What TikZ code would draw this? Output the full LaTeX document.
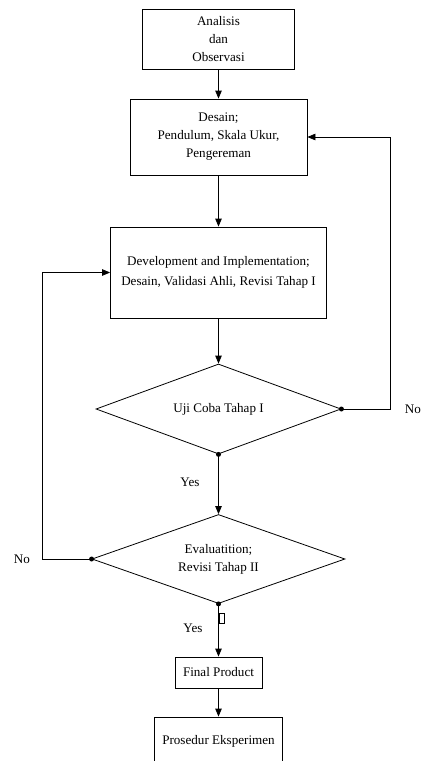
\documentclass[tikz,border=0pt]{standalone}
\usepackage{fontspec}
\setmainfont{Liberation Serif}
\usepackage{tikz}
\usetikzlibrary{calc,shapes.geometric,arrows.meta}

\begin{document}
\begin{tikzpicture}[x=1pt,y=-1pt]
\tikzset{
    blok/.style={draw,line width=0.8pt,inner sep=0pt,align=center,
        font=\fontsize{13.1}{18}\selectfont},
    keputusan/.style={blok,diamond,aspect=2.75},
    arr/.style={-{Triangle[length=8pt,width=6.5pt]},line width=0.8pt},
    garis/.style={line width=0.8pt},
    titik/.style={circle,fill,inner sep=0pt,minimum size=5pt},
    label/.style={font=\fontsize{13.1}{15}\selectfont}
}
\clip (0,0) rectangle (422,761);
\useasboundingbox (0,0) rectangle (422,761);

% Blocks
\node[blok,minimum width=152,minimum height=60] (anl) at (218.5,39){Analisis\\dan\\Observasi};
\node[blok,minimum width=177,minimum height=76] (des) at (218.5,137){Desain;\\Pendulum, Skala Ukur,\\Pengereman};
\node[blok,minimum width=216,minimum height=91,font=\fontsize{13.1}{20}\selectfont] (dev) at (218.5,272.5){Development and Implementation;\\Desain, Validasi Ahli, Revisi Tahap I};
\node[keputusan,minimum width=245,minimum height=90] (uji) at (218.5,409){Uji Coba Tahap I};
\node[keputusan,minimum width=253,minimum height=89] (eva) at (218.5,559){Evaluatition;\\Revisi Tahap II};
\node[blok,minimum width=87,minimum height=31] (fin) at (218.5,672.5){Final Product};
\node[blok,minimum width=128,minimum height=48] (pro) at (218.5,741){Prosedur Eksperimen};

% Dots
\node[titik] (ujiE) at (uji.east){};
\node[titik] (ujiS) at (uji.south){};
\node[titik] (evaW) at (eva.west){};
\node[titik] (evaS) at (eva.south){};
\node[draw,line width=0.6pt,inner sep=0pt,minimum width=5,minimum height=10] (kotak) at (222,618){};

% Arrows
\draw[arr] (anl.south) -- (des.north);
\draw[arr] (des.south) -- (dev.north);
\draw[arr] (dev.south) -- (uji.north);
\draw[arr] (uji.south) -- (eva.north);
\draw[arr] (eva.south) -- (fin.north);
\draw[arr] (fin.south) -- (pro.north);

\draw[arr] (uji.east) -- ++(49,0) |- (des.east);
\draw[arr] (eva.west) -- ++(-49,0) |- (dev.west);

% Labels
\node[label] (yes1) at (190,482){Yes};
\node[label] (yes2) at (193,628){Yes};
\node[label] (no1) at (22,559){No};
\node[label,anchor=east,inner sep=1pt] (no2) at (422,409){No};

\end{tikzpicture}
\end{document}
